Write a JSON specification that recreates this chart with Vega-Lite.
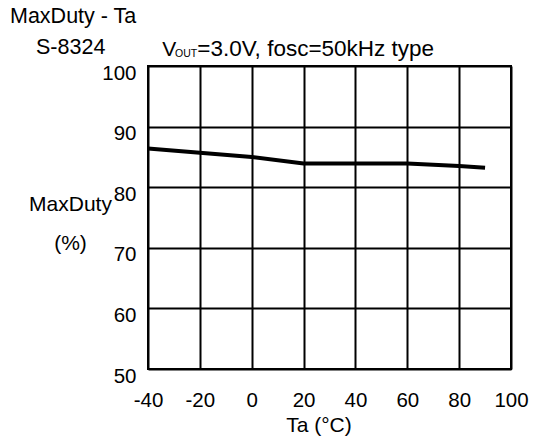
{
  "$schema": "https://vega.github.io/schema/vega-lite/v6.json",
  "autosize": "none",
  "width": 363,
  "height": 303,
  "padding": {"left": 148, "top": 66, "right": 22, "bottom": 76},
  "background": "white",
  "config": {
    "font": "Liberation Sans",
    "view": {"stroke": "black", "strokeWidth": 2},
    "axis": {
      "grid": true,
      "gridColor": "black",
      "gridOpacity": 1,
      "gridWidth": 2,
      "domain": false,
      "ticks": false,
      "labelFont": "Liberation Sans",
      "labelFontSize": 20.5,
      "labelColor": "black",
      "titleFont": "Liberation Sans",
      "titleFontSize": 21,
      "titleFontWeight": "normal",
      "titleColor": "black"
    }
  },
  "title": {
    "text": "MaxDuty - Ta",
    "anchor": "start",
    "frame": "group",
    "dx": -138,
    "offset": 10,
    "font": "Liberation Sans",
    "fontSize": 21.5,
    "fontWeight": "normal",
    "color": "black"
  },
  "layer": [
    {
      "data": {
        "values": [
          {"Ta": -40, "MaxDuty": 86.4},
          {"Ta": -20, "MaxDuty": 85.7},
          {"Ta": 0, "MaxDuty": 85.0},
          {"Ta": 20, "MaxDuty": 83.9},
          {"Ta": 40, "MaxDuty": 83.9},
          {"Ta": 60, "MaxDuty": 83.9},
          {"Ta": 80, "MaxDuty": 83.5},
          {"Ta": 90, "MaxDuty": 83.2}
        ]
      },
      "mark": {"type": "line", "color": "black", "strokeWidth": 4, "clip": false},
      "encoding": {
        "x": {
          "field": "Ta",
          "type": "quantitative",
          "scale": {"domain": [-40, 100], "nice": false, "zero": false},
          "axis": {
            "values": [-40, -20, 0, 20, 40, 60, 80, 100],
            "labelExpr": "'' + datum.value",
            "labelPadding": 21,
            "labelFlush": false,
            "title": "Ta (°C)",
            "titleX": 170.5,
            "titleY": 62,
            "titleAlign": "center",
            "titleBaseline": "alphabetic"
          }
        },
        "y": {
          "field": "MaxDuty",
          "type": "quantitative",
          "scale": {"domain": [50, 100], "nice": false, "zero": false},
          "axis": {
            "values": [50, 60, 70, 80, 90, 100],
            "labelPadding": 12,
            "labelBaseline": "middle",
            "labelOffset": 7,
            "labelFlush": false,
            "title": ["MaxDuty", "(%)"],
            "titleAngle": 0,
            "titleX": -78,
            "titleY": 144,
            "titleAlign": "center",
            "titleBaseline": "alphabetic",
            "titleLineHeight": 39
          }
        }
      }
    },
    {
      "data": {"values": [{"t": "S-8324", "x": -83.19, "y": 101.93}]},
      "mark": {"type": "text", "align": "left", "baseline": "alphabetic", "fontSize": 21.5, "color": "black", "font": "Liberation Sans", "clip": false},
      "encoding": {"x": {"field": "x", "type": "quantitative"}, "y": {"field": "y", "type": "quantitative"}, "text": {"field": "t"}}
    },
    {
      "data": {"values": [{"t": "V", "x": -34.5, "y": 101.65}]},
      "mark": {"type": "text", "align": "left", "baseline": "alphabetic", "fontSize": 21, "color": "black", "font": "Liberation Sans", "clip": false},
      "encoding": {"x": {"field": "x", "type": "quantitative"}, "y": {"field": "y", "type": "quantitative"}, "text": {"field": "t"}}
    },
    {
      "data": {"values": [{"t": "OUT", "x": -29.6, "y": 101.52}]},
      "mark": {"type": "text", "align": "left", "baseline": "alphabetic", "fontSize": 10.5, "color": "black", "font": "Liberation Sans", "clip": false},
      "encoding": {"x": {"field": "x", "type": "quantitative"}, "y": {"field": "y", "type": "quantitative"}, "text": {"field": "t"}}
    },
    {
      "data": {"values": [{"t": "=3.0V, fosc=50kHz type", "x": -21.0, "y": 101.65}]},
      "mark": {"type": "text", "align": "left", "baseline": "alphabetic", "fontSize": 22.5, "color": "black", "font": "Liberation Sans", "clip": false},
      "encoding": {"x": {"field": "x", "type": "quantitative"}, "y": {"field": "y", "type": "quantitative"}, "text": {"field": "t"}}
    }
  ]
}
